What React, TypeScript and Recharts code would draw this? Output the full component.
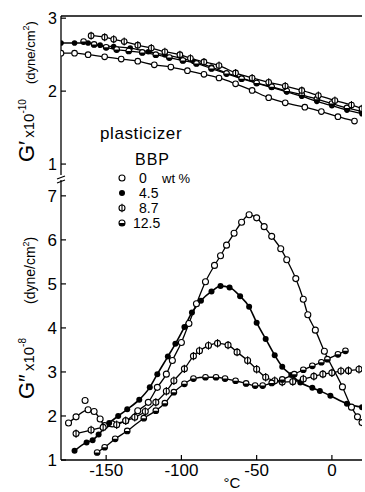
import { LineChart, Line, XAxis, YAxis, ReferenceLine } from 'recharts'

// G' x 10^-10 (dyne/cm2), top panel
const GP_T_0 = [-180, -171, -162, -151, -140, -129, -118, -107, -96, -85, -75, -64, -53, -42, -31, -18, -7, 4, 15]
const GP_V_0 = [2.52, 2.52, 2.5, 2.47, 2.44, 2.41, 2.36, 2.33, 2.28, 2.23, 2.18, 2.1, 2.01, 1.91, 1.84, 1.78, 1.72, 1.65, 1.59]
const GP_T_45 = [-180, -171, -162, -154, -145, -134, -122, -111, -100, -92, -80, -70, -60, -50, -40, -30, -20, -10, 0, 10, 20]
const GP_V_45 = [2.66, 2.66, 2.66, 2.63, 2.61, 2.59, 2.54, 2.5, 2.45, 2.41, 2.33, 2.25, 2.18, 2.11, 2.05, 1.99, 1.93, 1.86, 1.8, 1.74, 1.69]
const GP_T_87 = [-160, -151, -145, -138, -129, -120, -111, -101, -94, -85, -75, -64, -53, -42, -31, -20, -9, 2, 13, 20]
const GP_V_87 = [2.76, 2.74, 2.71, 2.68, 2.63, 2.59, 2.54, 2.5, 2.45, 2.4, 2.35, 2.25, 2.18, 2.12, 2.07, 2.01, 1.94, 1.87, 1.81, 1.76]
const GP_T_125 = [-165, -158, -150, -143, -135, -126, -117, -108, -99, -90, -80, -70, -60, -50, -40, -30, -20, -10, 0, 10, 20]
const GP_V_125 = [2.68, 2.64, 2.6, 2.57, 2.55, 2.53, 2.5, 2.46, 2.42, 2.38, 2.31, 2.24, 2.17, 2.11, 2.06, 2.0, 1.95, 1.89, 1.83, 1.77, 1.72]

// G'' x 10^-8 (dyne/cm2), bottom panel
const GPP_T_0 = [-175, -170, -162, -158, -154, -151, -146, -137, -129, -122, -116, -110, -106, -100, -95, -90, -84, -78, -74, -70, -65, -60, -55, -50, -45, -40, -34, -30, -24, -19, -16, -11, -5, 7, 13, 17, 20]
const GPP_V_0 = [1.84, 1.98, 2.14, 2.1, 1.93, 1.78, 1.82, 1.89, 2.12, 2.31, 2.65, 2.95, 3.26, 3.67, 4.1, 4.55, 5.05, 5.42, 5.64, 5.88, 6.15, 6.4, 6.57, 6.5, 6.3, 6.08, 5.8, 5.55, 5.12, 4.65, 4.3, 3.95, 3.47, 2.66, 2.2, 1.98, 1.85]
const GPP_OUTLIER_T = [-164]
const GPP_OUTLIER_V = [2.35]
const GPP_T_45 = [-171, -163, -159, -155, -148, -142, -136, -128, -121, -116, -109, -104, -98, -93, -87, -80, -74, -68, -61, -55, -50, -44, -38, -33, -27, -21, -13, -8, -1, 10, 20]
const GPP_V_45 = [1.21, 1.4, 1.45, 1.58, 1.84, 2.0, 2.15, 2.37, 2.65, 2.95, 3.35, 3.64, 4.02, 4.35, 4.62, 4.83, 4.95, 4.92, 4.72, 4.48, 4.12, 3.75, 3.38, 3.12, 2.93, 2.76, 2.64, 2.57, 2.46, 2.28, 2.2]
const GPP_T_87 = [-170, -160, -152, -143, -137, -131, -124, -117, -110, -105, -98, -92, -88, -82, -76, -69, -63, -56, -50, -44, -38, -33, -26, -19, -12, -6, 0, 6, 11, 18]
const GPP_V_87 = [1.6, 1.68, 1.74, 1.8, 1.89, 1.97, 2.1, 2.31, 2.56, 2.8, 3.07, 3.36, 3.48, 3.6, 3.65, 3.61, 3.45, 3.26, 3.06, 2.88, 2.8, 2.77, 2.78, 2.84, 2.9, 2.95, 2.98, 3.02, 3.03, 3.06]
const GPP_T_125 = [-156, -151, -144, -136, -125, -117, -111, -105, -98, -92, -84, -77, -71, -64, -57, -51, -46, -40, -33, -25, -19, -13, -7, -3, 4, 9]
const GPP_V_125 = [1.17, 1.29, 1.48, 1.66, 1.95, 2.12, 2.29, 2.54, 2.73, 2.85, 2.88, 2.88, 2.85, 2.8, 2.74, 2.69, 2.69, 2.75, 2.83, 2.95, 3.05, 3.14, 3.22, 3.29, 3.4, 3.48]

const X_TICKS = [-150, -100, -50, 0]
const GP_TICKS = [1, 2, 3]
const GPP_TICKS = [1, 2, 3, 4, 5, 6, 7]
const LEGEND_LABELS = ['0', '4.5', '8.7', '12.5']
const LEGEND_KINDS = ['open', 'filled', 'bar', 'half']

const FONT = '"Liberation Sans", Arial, sans-serif'
const AXIS_X = 61

const zip = (ts: number[], vs: number[]) => ts.map((t, i) => ({ t, v: vs[i] }))

function Marker({ cx, cy, kind, r }: { cx?: number; cy?: number; kind: string; r: number }) {
  if (cx == null || cy == null) return null
  if (kind === 'filled') return <circle cx={cx} cy={cy} r={r} fill="#000" />
  if (kind === 'bar')
    return (
      <g>
        <circle cx={cx} cy={cy} r={r} fill="#fff" stroke="#000" strokeWidth={1.1} />
        <line x1={cx} x2={cx} y1={cy - r - 1.2} y2={cy + r + 1.2} stroke="#000" strokeWidth={1.1} />
      </g>
    )
  if (kind === 'half')
    return (
      <g>
        <circle cx={cx} cy={cy} r={r} fill="#fff" stroke="#000" strokeWidth={1.1} />
        <path d={`M ${cx - r} ${cy} A ${r} ${r} 0 0 0 ${cx + r} ${cy} Z`} fill="#000" />
      </g>
    )
  return <circle cx={cx} cy={cy} r={r} fill="#fff" stroke="#000" strokeWidth={1.1} />
}

const dotOf = (kind: string, r: number) => (p: any) => (
  <Marker key={`d${p.index}`} cx={p.cx} cy={p.cy} kind={kind} r={r} />
)

function YTick(props: any) {
  const { y, payload, fontSize } = props
  return (
    <g>
      <line x1={AXIS_X} x2={AXIS_X + 5} y1={y} y2={y} stroke="#000" strokeWidth={1.2} />
      <text x={AXIS_X - 4} y={y + fontSize * 0.36} textAnchor="end" fontSize={fontSize} fontFamily={FONT} fill="#000">
        {payload.value}
      </text>
    </g>
  )
}

function XTick(props: any) {
  const { x, payload } = props
  return (
    <g>
      <line x1={x} x2={x} y1={285} y2={280} stroke="#000" strokeWidth={1.2} />
      <text x={x} y={301} textAnchor="middle" fontSize={17} fontFamily={FONT} fill="#000">
        {payload.value}
      </text>
    </g>
  )
}

const lineProps = { type: 'monotone' as const, dataKey: 'v', stroke: '#000', strokeWidth: 1.3, isAnimationActive: false }

function Overlay() {
  return (
    <svg width={365} height={492} style={{ position: 'absolute', left: 0, top: 0, pointerEvents: 'none' }} fontFamily={FONT}>
      {/* y labels */}
      <text transform="translate(34,162) rotate(-90)" fill="#000">
        <tspan fontSize={22}>G′</tspan>
        <tspan fontSize={15} dx={3}>x10</tspan>
        <tspan fontSize={10} dy={-8}>-10</tspan>
      </text>
      <text transform="translate(35,84) rotate(-90)" fill="#000">
        <tspan fontSize={13}>(dyne/cm</tspan>
        <tspan fontSize={9} dy={-6}>2</tspan>
        <tspan fontSize={13} dy={6}>)</tspan>
      </text>
      <text transform="translate(34,399) rotate(-90)" fill="#000">
        <tspan fontSize={22}>G″</tspan>
        <tspan fontSize={15} dx={3}>x10</tspan>
        <tspan fontSize={10} dy={-8}>-8</tspan>
      </text>
      <text transform="translate(35,304) rotate(-90)" fill="#000">
        <tspan fontSize={14}>(dyne/cm</tspan>
        <tspan fontSize={9} dy={-6}>2</tspan>
        <tspan fontSize={14} dy={6}>)</tspan>
      </text>

      {/* axis break */}
      <line x1={57} y1={179} x2={65} y2={176} stroke="#000" strokeWidth={1.2} />
      <line x1={57} y1={183} x2={65} y2={180} stroke="#000" strokeWidth={1.2} />

      {/* legend */}
      <text x={100} y={139} fontSize={17} letterSpacing={0.6} fill="#000">plasticizer</text>
      <text x={135} y={165} fontSize={16} letterSpacing={1} fill="#000">BBP</text>
      {LEGEND_LABELS.map((label, i) => {
        const y = 178 + i * 15
        return (
          <g key={label}>
            <Marker cx={122} cy={y} kind={LEGEND_KINDS[i]} r={3} />
            <text x={i === 3 ? 133 : 139} y={y + 5} fontSize={14} fill="#000">{label}</text>
            {i === 0 && <text x={162} y={y + 5} fontSize={13} fill="#000">wt %</text>}
          </g>
        )
      })}

      <text x={232} y={488} fontSize={15} textAnchor="middle" fill="#000">°C</text>
    </svg>
  )
}

export default function App() {
  return (
    <div style={{ position: 'absolute', left: 0, top: 0, width: 365, height: 492, background: '#fff' }}>
      <div style={{ position: 'absolute', left: 0, top: 0 }}>
        <LineChart width={365} height={175} margin={{ top: 16, right: 3, bottom: 0, left: 0 }}>
          <XAxis type="number" dataKey="t" domain={[-180, 20]} allowDataOverflow hide />
          <YAxis
            type="number"
            domain={[0.85, 3.03]}
            allowDataOverflow
            ticks={GP_TICKS}
            width={AXIS_X}
            axisLine={{ stroke: '#000', strokeWidth: 1.3 }}
            tickLine={false}
            tick={<YTick fontSize={16} />}
          />
          <ReferenceLine y={3.03} stroke="#000" strokeWidth={1.3} />
          <Line {...lineProps} data={zip(GP_T_0, GP_V_0)} dot={dotOf('open', 2.8)} />
          <Line {...lineProps} data={zip(GP_T_45, GP_V_45)} dot={dotOf('filled', 2.8)} />
          <Line {...lineProps} data={zip(GP_T_125, GP_V_125)} dot={dotOf('half', 2.8)} />
          <Line {...lineProps} data={zip(GP_T_87, GP_V_87)} dot={dotOf('bar', 2.8)} />
        </LineChart>
      </div>
      <div style={{ position: 'absolute', left: 0, top: 175 }}>
        <LineChart width={365} height={317} margin={{ top: 5, right: 3, bottom: 0, left: 0 }}>
          <XAxis
            type="number"
            dataKey="t"
            domain={[-180, 20]}
            allowDataOverflow
            ticks={X_TICKS}
            height={32}
            axisLine={{ stroke: '#000', strokeWidth: 1.3 }}
            tickLine={false}
            tick={<XTick />}
          />
          <YAxis
            type="number"
            domain={[1, 7.36]}
            allowDataOverflow
            ticks={GPP_TICKS}
            width={AXIS_X}
            axisLine={{ stroke: '#000', strokeWidth: 1.3 }}
            tickLine={false}
            tick={<YTick fontSize={17} />}
          />
          <Line {...lineProps} data={zip(GPP_T_0, GPP_V_0)} dot={dotOf('open', 3)} />
          <Line {...lineProps} data={zip(GPP_OUTLIER_T, GPP_OUTLIER_V)} stroke="none" dot={dotOf('open', 3)} />
          <Line {...lineProps} data={zip(GPP_T_45, GPP_V_45)} strokeWidth={1.6} dot={dotOf('filled', 3)} />
          <Line {...lineProps} data={zip(GPP_T_87, GPP_V_87)} dot={dotOf('bar', 3)} />
          <Line {...lineProps} data={zip(GPP_T_125, GPP_V_125)} dot={dotOf('half', 2.8)} />
        </LineChart>
      </div>
      <Overlay />
    </div>
  )
}
